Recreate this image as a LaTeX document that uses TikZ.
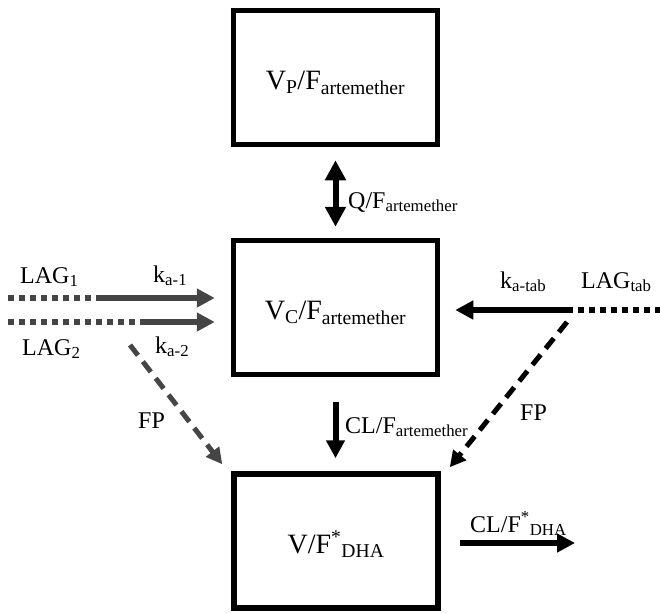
\documentclass[tikz,border=0pt]{standalone}
\usepackage{fontspec}
\setmainfont{Liberation Serif}
\usetikzlibrary{arrows.meta}

\definecolor{leftgray}{gray}{0.27}

\tikzset{
  compartment/.style={draw, line width=5.5pt, minimum width=204pt, minimum height=134pt,
    text height=24pt, text depth=0pt, font=\fontsize{28}{30}\selectfont},
  flow/.style={line width=6pt, -{Triangle[length=18pt,width=18pt]}},
  qflow/.style={line width=6pt, {Triangle[length=20pt,width=20pt]}-{Triangle[length=20pt,width=20pt]}},
  lagline/.style={line width=6pt, dash pattern=on 6pt off 5pt},
  fpline/.style={line width=5pt, dash pattern=on 13pt off 8pt, -{Triangle[length=16pt,width=16pt]}},
  rate/.style={font=\fontsize{24}{26}\selectfont, inner sep=0pt, anchor=base west},
}

\begin{document}
\begin{tikzpicture}[x=1pt, y=-1pt]
    \useasboundingbox (0,0) rectangle (660,613);

    % compartments
    \node[compartment] (periph) at (335.5,77.5) {V\textsubscript{P}/F\textsubscript{artemether}};
    \node[compartment] (central) at (335.5,307.5) {V\textsubscript{C}/F\textsubscript{artemether}};
    \node[compartment] (dha) at (336,541) {V/F\textsuperscript{*}\textsubscript{DHA}};

    % end points
    \coordinate (lag1) at (8,298);
    \coordinate (ka1) at (102,298);
    \coordinate (lag2) at (8,322);
    \coordinate (ka2) at (146,322);
    \coordinate (katab) at (567,310);
    \coordinate (lagtab) at (660,310);
    \coordinate (fpl) at (130,345);
    \coordinate (fpr) at (567,322);
    \coordinate (elim) at (575,543);

    % transfer between compartments
    \draw[qflow, shorten <=13pt, shorten >=11pt] (periph.south) -- (central.north);
    \draw[flow, shorten <=25pt, shorten >=13pt] (central.south) -- (central.south |- dha.north);
    \draw[flow, shorten <=19pt] (dha.east |- elim) -- (elim);

    % absorption
    \draw[lagline, leftgray] (lag1) -- (ka1);
    \draw[flow, leftgray, shorten >=16pt] (ka1) -- (ka1 -| central.west);
    \draw[lagline, leftgray] (lag2) -- (ka2);
    \draw[flow, leftgray, shorten >=16pt] (ka2) -- (ka2 -| central.west);
    \draw[lagline] (katab) -- (lagtab);
    \draw[flow, shorten >=15pt] (katab) -- (katab -| central.east);

    % first pass
    \draw[fpline, leftgray] (fpl) -- ([shift={(-9pt,7pt)}]dha.north west);
    \draw[fpline] (fpr) -- ([shift={(9pt,4pt)}]dha.north east);

    % labels
    \node[rate] (lq) at (348,208) {Q/F\textsubscript{artemether}};
    \node[rate] (lcl) at (345,433) {CL/F\textsubscript{artemether}};
    \node[rate] (lcld) at (470,532) {CL/F\textsuperscript{*}\textsubscript{DHA}};
    \node[rate] (llag1) at (20,283) {LAG\textsubscript{1}};
    \node[rate] (lka1) at (153,282) {k\textsubscript{a-1}};
    \node[rate] (llag2) at (22,355) {LAG\textsubscript{2}};
    \node[rate] (lka2) at (155,353) {k\textsubscript{a-2}};
    \node[rate] (lfpl) at (138,428) {FP};
    \node[rate] (lkatab) at (500,288) {k\textsubscript{a-tab}};
    \node[rate] (llagtab) at (581,288) {LAG\textsubscript{tab}};
    \node[rate] (lfpr) at (520,420) {FP};
\end{tikzpicture}
\end{document}
